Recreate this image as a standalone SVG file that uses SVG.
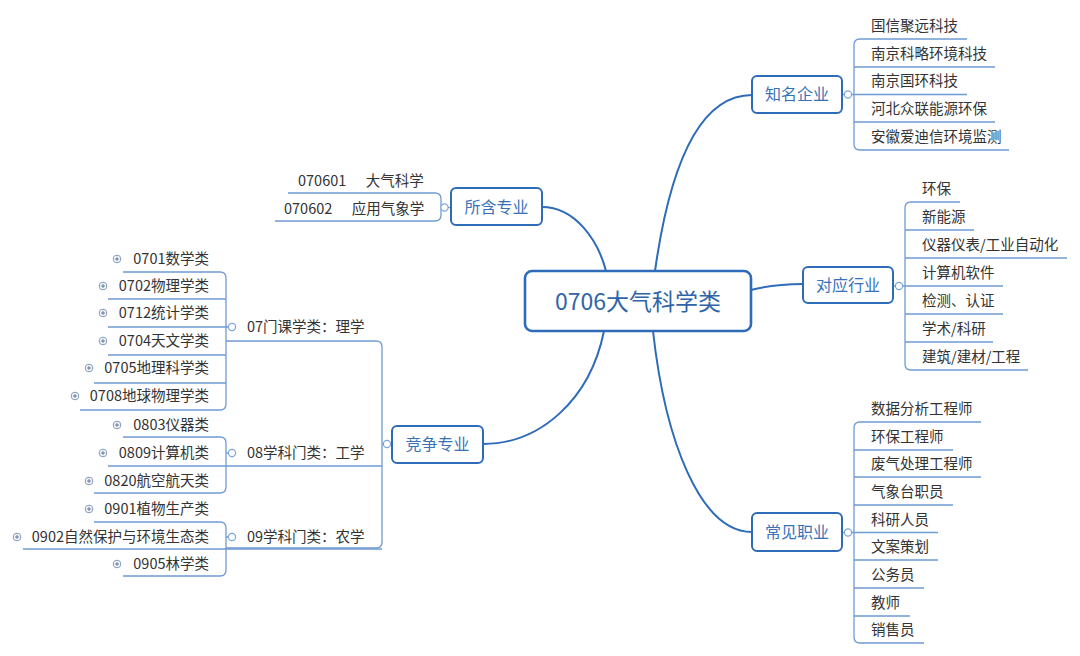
<svg xmlns="http://www.w3.org/2000/svg" width="1080" height="656" viewBox="0 0 1080 656">
<style>
.bg{fill:#ffffff}
.box{fill:#ffffff;stroke:#2e6bb8;stroke-width:2}
.main{fill:none;stroke:#2e6bb8;stroke-width:2}
.tree{fill:none;stroke:#6f9bd4;stroke-width:1.3}
.col{fill:#ffffff;stroke:#7fa6d8;stroke-width:1.2}
.plus{fill:#ffffff;stroke:#7f97b8;stroke-width:1}
.pl{stroke:#5f7798;stroke-width:1}
text{font-family:"Noto Sans CJK SC","Microsoft YaHei",sans-serif;dominant-baseline:central;transform:translateY(-1.5px)}
.ct{font-size:23px;fill:#2f64a8;text-anchor:middle}
.nt{font-size:16px;fill:#3a72b8;text-anchor:middle}
.lt{font-size:14.5px;fill:#333333}
.rt{font-size:14.5px;fill:#333333;text-anchor:end}
</style>
<defs>
<g id="plusicon"><circle r="3.8" class="plus"/><path d="M-2.2,0H2.2M0,-2.2V2.2" class="pl"/></g>
</defs>
<rect class="bg" x="0" y="0" width="1080" height="656"/>
<g id="connectors">
<path class="main" d="M655,271 C672,150 705,95 752,95"/>
<path class="main" d="M606,271 C598,240 575,207 542,207"/>
<path class="main" d="M604,331 C590,400 540,444 483,444"/>
<path class="main" d="M653,331 C665,440 700,532 752,532"/>
<path class="main" d="M751,290 C770,285 785,284 803,284"/>
<!-- 知名企业 tree -->
<path class="tree" d="M967,39 H860 Q854,39 854,45 V144 Q854,150 860,150 H1009"/>
<path class="tree" d="M854,67 H995 M842,94.5 H967 M854,122 H995"/>
<!-- 对应行业 tree -->
<path class="tree" d="M960,202 H911 Q905,202 905,208 V364 Q905,370 911,370 H1028"/>
<path class="tree" d="M905,230 H974 M905,258 H1067 M893,286 H1003 M905,314 H1003 M905,342 H993"/>
<!-- 常见职业 tree -->
<path class="tree" d="M981,422 H860 Q854,422 854,428 V637 Q854,643 860,643 H924"/>
<path class="tree" d="M854,450 H953 M854,477 H981 M854,505 H953 M842,532.5 H938 M854,560 H938 M854,588 H924 M854,616 H910"/>
<!-- 所含专业 tree -->
<path class="tree" d="M288,193 H435 Q441,193 441,199 V215 Q441,221 435,221 H275"/>
<path class="tree" d="M441,207.5 H451"/>
<!-- 竞争专业 tree -->
<path class="tree" d="M226,341 H376 Q382,341 382,347 V542 Q382,548 376,548 H226"/>
<path class="tree" d="M108,466 H382 M382,444 H392"/>
<!-- 07 tree -->
<path class="tree" d="M123,272 H220 Q226,272 226,278 V404 Q226,410 220,410 H80"/>
<path class="tree" d="M108,299 H226 M108,327 H228.5 M108,355 H226 M94,383 H226"/>
<!-- 08 tree -->
<path class="tree" d="M123,437 H220 Q226,437 226,443 V487 Q226,493 220,493 H94"/>
<path class="tree" d="M226,453 H228.5"/>
<!-- 09 tree -->
<path class="tree" d="M94,522 H220 Q226,522 226,528 V570 Q226,576 220,576 H123"/>
<path class="tree" d="M23,549 H382 M226,537 H228.5"/>
<!-- collapse circles -->
<circle class="col" cx="848" cy="94.5" r="3.6"/>
<circle class="col" cx="899" cy="286" r="3.6"/>
<circle class="col" cx="848" cy="532.5" r="3.6"/>
<circle class="col" cx="444.5" cy="207.5" r="3.6"/>
<circle class="col" cx="387" cy="444" r="3.6"/>
<circle class="col" cx="232" cy="327" r="3.6"/>
<circle class="col" cx="232" cy="453" r="3.6"/>
<circle class="col" cx="232" cy="537" r="3.6"/>
</g>
<g id="center">
<rect class="box" x="525" y="271" width="226" height="60" rx="7" style="stroke-width:2.6"/>
<text class="ct" x="638" y="301">0706大气科学类</text>
</g>
<g id="n-qiye">
<rect class="box" x="752" y="76" width="90" height="37" rx="5"/>
<text class="nt" x="797" y="94.5">知名企业</text>
<text class="lt" x="871" y="26">国信聚远科技</text>
<text class="lt" x="871" y="54">南京科略环境科技</text>
<text class="lt" x="871" y="81">南京国环科技</text>
<text class="lt" x="871" y="109">河北众联能源环保</text>
<text class="lt" x="871" y="137">安徽爱迪信环境监测</text>
</g>
<g id="n-hangye">
<rect class="box" x="803" y="267" width="90" height="36" rx="5"/>
<text class="nt" x="848" y="285">对应行业</text>
<text class="lt" x="922" y="189">环保</text>
<text class="lt" x="922" y="217">新能源</text>
<text class="lt" x="922" y="245">仪器仪表/工业自动化</text>
<text class="lt" x="922" y="273">计算机软件</text>
<text class="lt" x="922" y="301">检测、认证</text>
<text class="lt" x="922" y="329">学术/科研</text>
<text class="lt" x="922" y="357">建筑/建材/工程</text>
</g>
<g id="n-zhiye">
<rect class="box" x="752" y="513" width="90" height="38" rx="5"/>
<text class="nt" x="797" y="532">常见职业</text>
<text class="lt" x="871" y="409">数据分析工程师</text>
<text class="lt" x="871" y="437">环保工程师</text>
<text class="lt" x="871" y="464">废气处理工程师</text>
<text class="lt" x="871" y="492">气象台职员</text>
<text class="lt" x="871" y="520">科研人员</text>
<text class="lt" x="871" y="547">文案策划</text>
<text class="lt" x="871" y="575">公务员</text>
<text class="lt" x="871" y="603">教师</text>
<text class="lt" x="871" y="630">销售员</text>
</g>
<g id="n-suohan">
<rect class="box" x="451" y="188" width="91" height="37" rx="5"/>
<text class="nt" x="496.5" y="207">所含专业</text>
<text class="lt" x="298" y="181" xml:space="preserve">070601      大气科学</text>
<text class="lt" x="284" y="209" xml:space="preserve">070602      应用气象学</text>
</g>
<g id="n-jingzheng">
<rect class="box" x="392" y="426" width="91" height="37" rx="5"/>
<text class="nt" x="437.5" y="444">竞争专业</text>
</g>
<g id="n-07">
<text class="lt" x="247" y="327">07门课学类：理学</text>
<text class="rt" x="209" y="259">0701数学类</text>
<text class="rt" x="209" y="286">0702物理学类</text>
<text class="rt" x="209" y="313">0712统计学类</text>
<text class="rt" x="209" y="341">0704天文学类</text>
<text class="rt" x="209" y="368">0705地理科学类</text>
<text class="rt" x="209" y="396">0708地球物理学类</text>
<use href="#plusicon" x="117" y="259"/>
<use href="#plusicon" x="103" y="286"/>
<use href="#plusicon" x="103" y="313"/>
<use href="#plusicon" x="103" y="341"/>
<use href="#plusicon" x="89" y="368"/>
<use href="#plusicon" x="75" y="396"/>
</g>
<g id="n-08">
<text class="lt" x="247" y="453">08学科门类：工学</text>
<text class="rt" x="209" y="425">0803仪器类</text>
<text class="rt" x="209" y="453">0809计算机类</text>
<text class="rt" x="209" y="481">0820航空航天类</text>
<use href="#plusicon" x="117" y="425"/>
<use href="#plusicon" x="103" y="453"/>
<use href="#plusicon" x="89" y="481"/>
</g>
<g id="n-09">
<text class="lt" x="247" y="537">09学科门类：农学</text>
<text class="rt" x="209" y="509">0901植物生产类</text>
<text class="rt" x="209" y="537">0902自然保护与环境生态类</text>
<text class="rt" x="209" y="564">0905林学类</text>
<use href="#plusicon" x="89" y="509"/>
<use href="#plusicon" x="17" y="537"/>
<use href="#plusicon" x="117" y="564"/>
</g>
</svg>
